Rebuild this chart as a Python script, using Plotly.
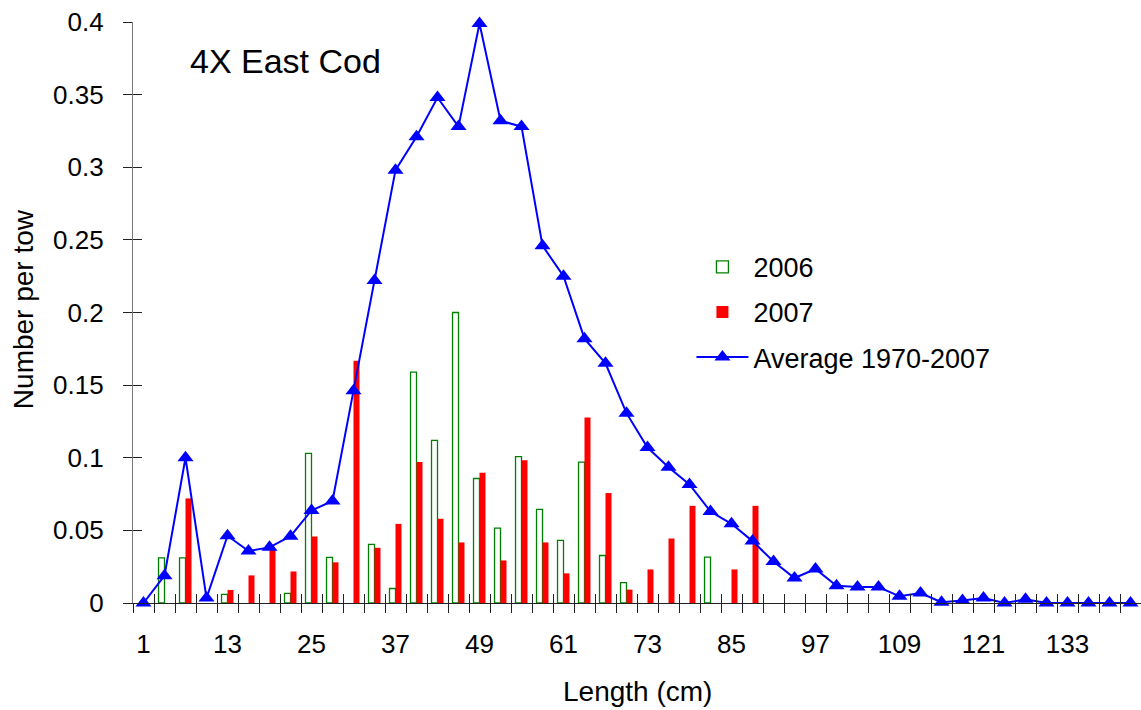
import plotly.graph_objects as go

# Length classes (cm), 3 cm bins
lengths = list(range(1, 143, 3))

# Stratified mean number per tow by length class
avg_1970_2007 = [
    0.000, 0.0188, 0.100, 0.0034, 0.0463, 0.0358, 0.0383, 0.046, 0.0637, 0.0702,
    0.1462, 0.222, 0.298, 0.321, 0.348, 0.328, 0.399, 0.332, 0.328, 0.246,
    0.225, 0.182, 0.165, 0.1307, 0.107, 0.0935, 0.0816, 0.063, 0.0545, 0.0426,
    0.0286, 0.0172, 0.0234, 0.0119, 0.011, 0.011, 0.0046, 0.0069, 0.0005, 0.0018,
    0.0034, 0.000, 0.0025, 0.000, 0.000, 0.000, 0.000, 0.000,
]
n_2006 = [
    None, 0.031, 0.031, None, 0.006, None, None, 0.0066, 0.103, 0.0314,
    None, 0.0403, 0.010, 0.159, 0.112, 0.200, 0.0857, 0.0516, 0.1008, 0.0644,
    0.0431, 0.097, 0.0327, 0.014, None, None, None, 0.0316, None, None,
] + [None] * 18
n_2007 = [
    None, None, 0.072, None, 0.009, 0.019, 0.037, 0.0217, 0.0458, 0.028,
    0.1667, 0.038, 0.0545, 0.097, 0.058, 0.0417, 0.0896, 0.0293, 0.0983, 0.0417,
    0.0204, 0.1277, 0.0757, 0.0092, 0.0231, 0.0444, 0.0669, None, 0.0231, 0.0669,
] + [None] * 18

# Axis ticks
x_tick_values = list(range(1, 134, 12))
x_tick_labels = [str(v) for v in x_tick_values]
y_tick_values = [0, 0.05, 0.1, 0.15, 0.2, 0.25, 0.3, 0.35, 0.4]
y_tick_labels = ["0", "0.05", "0.1", "0.15", "0.2", "0.25", "0.3", "0.35", "0.4"]

FONT = "Liberation Sans, Arial, sans-serif"
x_range = [lengths[0] - 1.5, lengths[-1] + 1.5]
y_range = [0, 0.4]
# tick marks sit on the boundaries between length classes
boundaries = [lengths[0] - 1.5 + 3 * k for k in range(len(lengths) + 1)]

fig = go.Figure()
fig.add_trace(go.Bar(
    x=lengths, y=n_2006, name="2006", legendgroup="a",
    marker=dict(color="white", line=dict(color="#008000", width=1.3)),
))
fig.add_trace(go.Bar(
    x=lengths, y=n_2007, name="2007", legendgroup="b",
    marker=dict(color="#FF0000", line=dict(width=0)),
))
fig.add_trace(go.Scatter(
    x=lengths, y=avg_1970_2007, name="Average 1970-2007", legendgroup="c",
    mode="lines+markers", cliponaxis=False,
    line=dict(color="#0000FF", width=2),
    marker=dict(symbol="triangle-up", size=14, color="#0000FF"),
))
# empty trace that brings the overlay axes (inner half of the cross ticks) into being
fig.add_trace(go.Scatter(
    x=[], y=[], xaxis="x2", yaxis="y2", showlegend=False, hoverinfo="skip",
))

tick_style = dict(ticklen=9, tickwidth=1.3, tickcolor="#222222")

fig.update_layout(
    width=1141, height=710,
    margin=dict(l=133, r=0, t=22, b=107),
    paper_bgcolor="white", plot_bgcolor="white",
    font=dict(family=FONT, color="black", size=26),
    barmode="group", bargap=0.43, bargroupgap=0,
    showlegend=True,
    legend=dict(
        x=0.554, y=0.62, xanchor="left", yanchor="top",
        font=dict(size=27), itemwidth=52, tracegroupgap=7,
        bgcolor="rgba(0,0,0,0)", traceorder="grouped",
    ),
    xaxis=dict(
        range=x_range, tickmode="array", tickvals=x_tick_values, ticktext=x_tick_labels,
        ticks="", showgrid=False, zeroline=False,
        showline=True, linecolor="#222222", linewidth=1.3,
        ticklabelstandoff=18,
        minor=dict(tickmode="array", tickvals=boundaries, ticks="outside",
                   showgrid=False, **tick_style),
    ),
    xaxis2=dict(
        range=x_range, overlaying="x", anchor="y2", side="bottom",
        tickmode="array", tickvals=boundaries, ticks="inside", **tick_style,
        showticklabels=False, showgrid=False, zeroline=False, showline=False,
    ),
    yaxis=dict(
        range=y_range, tickmode="array", tickvals=y_tick_values, ticktext=y_tick_labels,
        ticks="outside", **tick_style,
        showgrid=False, zeroline=False,
        showline=True, linecolor="#777777", linewidth=1.3,
        ticklabelstandoff=14,
    ),
    yaxis2=dict(
        range=y_range, overlaying="y", anchor="x2", side="left",
        tickmode="array", tickvals=y_tick_values, ticks="inside", **tick_style,
        showticklabels=False, showgrid=False, zeroline=False, showline=False,
    ),
    annotations=[
        dict(text="4X East Cod", xref="paper", yref="paper", x=0.0546, y=0.933,
             xanchor="left", yanchor="middle", showarrow=False, font=dict(size=34)),
        dict(text="Number per tow", xref="paper", yref="paper", x=-0.109, y=0.506,
             xanchor="center", yanchor="middle", textangle=-90, showarrow=False,
             font=dict(size=28)),
        dict(text="Length (cm)", xref="paper", yref="paper", x=0.5, y=-0.152,
             xanchor="center", yanchor="middle", showarrow=False, font=dict(size=28)),
    ],
)

fig.write_html("out.html")
